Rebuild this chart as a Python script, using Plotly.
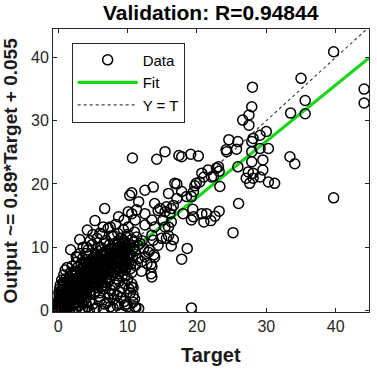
import plotly.graph_objects as go

# ---- data ----
outer_target = [
    39.7, 35.0, 44.1, 44.1, 35.6, 35.6, 33.5, 28.0, 27.9, 27.5,
    26.6, 27.5, 30.0, 29.1, 28.1, 27.9, 24.6, 25.9, 25.7, 24.2,
    29.1, 30.3, 27.9, 29.5, 27.9, 25.9, 27.4, 28.1, 29.5, 27.1,
    28.1, 29.1, 27.6, 30.3, 31.2, 33.4, 34.1, 39.7, 26.0, 25.2,
    19.2, 10.7, 14.2, 15.4, 17.4, 17.8, 19.1, 20.2, 23.1, 23.2,
    21.6, 21.0, 22.4, 23.3, 20.4, 19.7, 19.5, 17.1, 17.8, 18.5,
    19.4, 19.5, 20.7, 21.4, 21.0, 22.0, 22.6, 23.2, 13.7, 12.5,
    10.6, 11.6, 13.9, 14.7, 15.6, 16.6, 16.1, 15.1, 15.9, 15.6,
    16.6, 16.3, 18.6, 17.8, 13.9, 13.7, 13.2, 13.8, 12.5, 12.8,
    13.4, 12.0, 13.4, 13.5, 11.1, 10.6, 10.8, 10.8, 11.1, 9.9,
    8.7, 8.5, 10.8, 6.7, 5.3, 4.2, 1.8, 3.1, 8.7, 9.5,
    10.6, 11.3, 16.8, 15.9, 17.1, 19.2, 19.9, 14.4, 15.4, 16.3,
    18.0, 10.1, 12.5, 11.1, 13.5, 16.3, 19.2, 10.1, 12.5, 15.4,
    13.5, 15.9, 14.9, 11.5, 14.4, 13.0, 13.9, 12.0, 13.5, 9.6,
    9.6, 10.6, 11.6, 9.6, 22.8, 20.7, 22.1, 24.3, 6.5, 6.0,
    10.3, 2.6, 4.1, 7.5,
]
outer_output = [
    40.9, 36.7, 35.0, 32.8, 33.2, 31.1, 31.2, 35.3, 32.2, 30.9,
    30.1, 29.3, 28.3, 27.7, 27.2, 26.7, 27.0, 26.7, 25.5, 25.4,
    25.6, 25.6, 25.1, 23.8, 23.5, 22.7, 21.9, 21.7, 22.2, 20.9,
    20.9, 21.1, 20.1, 20.3, 20.1, 24.3, 23.2, 17.8, 16.9, 12.3,
    0.4, 24.1, 23.9, 25.1, 24.5, 24.3, 24.7, 24.4, 22.7, 22.0,
    22.2, 21.1, 21.2, 19.6, 20.3, 19.7, 18.8, 20.0, 18.8, 18.0,
    16.0, 14.8, 15.3, 15.3, 14.0, 14.2, 14.9, 15.7, 19.5, 19.0,
    18.6, 17.2, 16.9, 16.1, 16.4, 16.6, 15.3, 14.3, 13.2, 11.4,
    11.2, 10.2, 9.8, 8.1, 13.2, 11.1, 9.5, 8.8, 8.5, 7.4,
    7.3, 6.2, 5.8, 5.3, 7.1, 4.2, 3.6, 1.3, 0.6, 1.0,
    1.1, 2.4, 2.4, 16.1, 14.2, 12.7, 9.6, 11.2, 14.8, 14.3,
    15.3, 15.9, 20.1, 18.5, 17.7, 18.0, 20.1, 15.8, 15.6, 16.1,
    15.3, 15.6, 15.3, 14.3, 14.3, 14.0, 14.3, 13.2, 13.5, 13.2,
    11.9, 11.8, 11.4, 10.3, 10.3, 9.2, 8.4, 7.7, 6.9, 7.1,
    5.5, 3.7, 0.3, 0.8, 22.5, 21.7, 21.1, 25.1, 13.2, 12.2,
    18.2, 8.5, 10.0, 13.2,
]

cluster_target = [
    0.0, 0.1, 0.2, 0.3, 0.4, 0.5, 0.6, 0.7, 0.8, 0.9,
    1.0, 1.1, 1.2, 1.3, 1.4, 1.5, 1.6, 1.7, 1.8, 1.9,
    0.2, 0.4, 0.1, 0.6, 0.3, 0.5, 0.8, 1.0, 0.7, 1.2,
    1.4, 1.6, 1.8, 2.0, 1.3, 2.2, 2.4, 2.6, 2.1, 2.3,
    2.5, 2.7, 2.9, 3.0, 3.2, 3.4, 3.6, 3.8, 2.8, 3.1,
    3.3, 3.5, 3.7, 3.9, 4.0, 4.1, 4.3, 4.4, 4.6, 4.8,
    4.2, 4.5, 4.7, 4.9, 5.0, 5.1, 5.2, 5.3, 5.4, 5.5,
    5.6, 5.7, 5.8, 5.9, 6.0, 6.1, 6.2, 6.3, 6.4, 6.5,
    6.6, 6.7, 6.8, 6.9, 7.0, 7.1, 7.2, 7.3, 7.4, 7.5,
    7.6, 7.7, 7.8, 7.9, 8.0, 8.1, 8.2, 8.3, 8.4, 8.5,
    8.6, 8.7, 8.8, 8.9, 9.0, 9.1, 9.2, 9.3, 9.4, 9.5,
    9.6, 9.7, 9.8, 9.9, 10.0, 10.2, 10.4, 10.6, 10.8, 11.0,
    2.0, 2.2, 2.4, 2.6, 2.8, 3.0, 3.2, 3.4, 3.6, 3.8,
    4.0, 4.2, 4.4, 4.6, 4.8, 5.0, 5.2, 5.4, 5.6, 5.8,
    6.0, 6.2, 6.4, 6.6, 6.8, 7.0, 7.2, 7.4, 7.6, 7.8,
    8.0, 8.2, 8.4, 8.6, 8.8, 9.0, 9.2, 9.4, 9.6, 9.8,
    1.0, 1.2, 1.4, 1.6, 1.8, 0.5, 0.7, 0.9, 1.1, 1.3,
    0.0, 0.0, 0.1, 0.2, 0.3, 0.4, 0.6, 0.8, 1.0, 1.5,
    2.0, 2.5, 3.0, 3.5, 4.0, 4.5, 5.0, 5.5, 6.0, 6.5,
    7.0, 7.5, 8.0, 8.5, 9.0, 9.5, 10.0, 11.0, 11.2, 10.4,
    5.2, 5.6, 6.0, 6.4, 6.8, 7.2, 7.6, 8.0, 8.4, 8.8,
    9.2, 9.6, 10.0, 10.2, 10.6, 6.2, 5.8, 6.6, 7.4, 8.0,
    4.4, 4.0, 3.6, 4.6, 5.0, 5.4, 3.2, 2.6, 2.2, 1.6,
    1.2, 0.8, 0.4, 0.9, 1.9, 2.8, 3.6, 4.2, 4.8, 5.6,
    0.3, 0.5, 0.7, 0.9, 1.1, 1.3, 1.5, 1.7, 1.9, 2.1,
    2.3, 2.5, 2.7, 2.9, 3.1, 3.3, 3.5, 3.7, 3.9, 4.1,
    4.3, 4.5, 4.7, 4.9, 5.1, 5.3, 5.5, 5.7, 5.9, 6.1,
    6.3, 6.5, 6.7, 6.9, 7.1, 7.3, 7.5, 7.7, 7.9, 8.1,
    8.3, 8.5, 8.7, 8.9, 9.1, 9.3, 9.5, 9.7, 9.9, 10.1,
    3.0, 3.4, 3.8, 4.2, 4.6, 5.0, 5.4, 5.8, 6.2, 6.6,
    7.0, 7.4, 7.8, 8.2, 8.6, 9.0, 9.4, 9.8, 10.2, 10.4,
    0.1, 0.2, 0.4, 0.6, 0.8, 1.0, 1.2, 1.4, 1.6, 1.8,
    2.0, 2.2, 2.4, 2.6, 2.8, 3.0, 3.2, 3.4, 3.6, 3.8,
    0.2, 0.5, 0.7, 0.9, 1.1, 1.3, 1.5, 1.7, 1.9, 2.1,
    2.3, 2.5, 2.7, 2.9, 3.1, 3.3, 3.5, 3.7, 3.9, 4.1,
    4.3, 4.5, 4.7, 4.9, 5.1, 5.3, 5.5, 5.7, 5.9, 6.1,
    6.3, 6.5, 6.7, 6.9, 7.1, 7.3, 7.5, 7.7, 7.9, 8.1,
    8.3, 8.5, 8.7, 8.9, 9.1, 9.3, 9.5, 9.7, 9.9, 10.1,
    10.3, 10.5, 10.7, 10.9, 11.1, 11.3, 11.5, 11.8, 12.1, 12.3,
]
cluster_output = [
    0.0, 0.3, 0.1, 0.6, 0.2, 0.9, 0.4, 1.2, 0.1, 0.7,
    1.5, 0.3, 2.0, 1.0, 0.5, 2.4, 1.4, 0.2, 3.0, 1.8,
    1.4, 2.2, 2.8, 3.3, 4.0, 4.8, 5.6, 6.4, 3.8, 4.4,
    3.6, 5.2, 6.0, 7.0, 6.8, 5.0, 6.2, 7.6, 2.6, 1.2,
    3.4, 0.4, 2.0, 4.2, 5.6, 3.0, 6.8, 1.6, 8.4, 9.0,
    7.4, 8.2, 4.6, 5.4, 2.4, 7.0, 9.6, 3.6, 6.0, 8.0,
    0.6, 1.4, 4.8, 10.4, 5.2, 7.6, 0.2, 3.0, 9.0, 6.4,
    11.4, 4.2, 8.4, 2.2, 6.8, 10.0, 5.0, 12.0, 7.8, 3.4,
    9.2, 1.0, 6.2, 11.0, 8.0, 4.4, 13.0, 7.0, 2.6, 9.8,
    5.6, 11.8, 8.8, 0.4, 7.4, 10.6, 4.0, 13.6, 9.4, 6.6,
    12.2, 8.2, 3.0, 10.2, 7.8, 11.4, 5.4, 9.0, 12.8, 8.6,
    10.8, 6.4, 11.6, 9.4, 12.0, 10.4, 8.8, 11.2, 9.8, 12.4,
    2.2, 3.0, 2.4, 3.8, 3.2, 2.8, 3.8, 4.6, 3.4, 4.0,
    4.6, 5.2, 4.2, 5.4, 4.4, 6.0, 5.2, 6.6, 5.4, 6.2,
    7.2, 6.4, 6.0, 7.4, 8.0, 6.6, 7.8, 8.4, 7.2, 8.0,
    8.8, 7.8, 8.6, 9.6, 8.4, 9.2, 10.0, 8.8, 9.6, 10.4,
    0.8, 1.2, 1.8, 1.0, 2.2, 0.5, 0.2, 1.1, 1.7, 0.4,
    0.6, 1.2, 1.8, 0.5, 0.0, 1.0, 0.0, 1.6, 0.0, 0.0,
    0.0, 0.2, 0.8, 0.3, 1.2, 0.0, 1.0, 0.4, 1.6, 0.2,
    1.2, 0.6, 1.8, 0.8, 2.0, 1.4, 0.6, 1.8, 0.4, 2.8,
    2.6, 3.6, 2.8, 4.4, 3.8, 2.0, 3.2, 2.6, 5.0, 4.6,
    3.6, 4.2, 5.0, 3.4, 6.0, 8.8, 10.0, 10.6, 10.4, 11.8,
    8.6, 9.0, 10.0, 11.0, 12.0, 8.0, 6.4, 5.6, 4.2, 4.0,
    3.2, 2.6, 3.0, 4.4, 4.8, 6.8, 6.0, 6.4, 7.0, 7.2,
    1.6, 2.0, 2.6, 3.0, 2.4, 2.8, 3.2, 3.8, 4.2, 3.6,
    4.6, 5.0, 4.4, 5.2, 4.8, 5.8, 5.2, 7.2, 6.4, 5.8,
    7.6, 6.8, 7.4, 6.2, 8.4, 7.0, 8.8, 6.0, 7.6, 8.2,
    9.6, 8.6, 7.0, 9.4, 9.0, 8.6, 7.6, 9.6, 9.0, 9.8,
    7.0, 10.4, 11.0, 9.0, 8.0, 10.6, 11.0, 7.6, 8.4, 9.0,
    1.6, 2.2, 2.8, 3.2, 2.6, 3.8, 4.6, 5.0, 3.8, 5.6,
    5.2, 4.8, 6.0, 6.2, 5.8, 6.6, 7.2, 6.8, 7.6, 6.6,
    0.9, 2.4, 1.4, 1.8, 0.5, 1.2, 0.8, 1.2, 2.0, 1.2,
    1.6, 2.0, 1.8, 2.6, 1.2, 3.4, 2.4, 1.2, 2.6, 3.4,
    3.4, 1.3, 4.4, 2.0, 5.0, 3.2, 4.6, 2.6, 5.6, 1.0,
    3.4, 4.2, 6.0, 3.8, 2.0, 4.4, 6.4, 3.0, 7.6, 4.0,
    5.0, 3.0, 6.6, 5.6, 4.4, 6.0, 5.0, 7.8, 4.6, 6.0,
    5.4, 7.0, 6.4, 5.0, 7.4, 6.2, 8.2, 6.8, 7.8, 6.6,
    8.0, 9.0, 7.4, 6.2, 9.6, 7.0, 9.4, 8.0, 7.2, 8.2,
    10.0, 7.4, 8.6, 10.8, 9.4, 11.6, 8.2, 10.6, 11.0, 9.8,
]

fit_slope = 0.89
fit_intercept = 0.055
x_limits = [-0.75, 44.8]
y_limits = [-0.25, 44.5]
tick_values = [0, 10, 20, 30, 40]
title_text = "Validation: R=0.94844"
x_label = "Target"
y_label = "Output ~= 0.89*Target + 0.055"

target = outer_target + cluster_target
output = outer_output + cluster_output

fig = go.Figure()
fig.add_trace(go.Scatter(
    x=x_limits, y=[fit_slope * v + fit_intercept for v in x_limits],
    mode="lines", name="Fit", legendrank=2,
    line=dict(color="rgb(24,214,24)", width=3.2)))
fig.add_trace(go.Scatter(
    x=x_limits, y=x_limits, mode="lines", name="Y = T", legendrank=3,
    line=dict(color="#404040", width=1.2, dash="dot")))
fig.add_trace(go.Scatter(
    x=target, y=output, mode="markers", name="Data", legendrank=1,
    marker=dict(symbol="circle-open", size=10, color="black",
                line=dict(width=1.5, color="black"))))

axis_common = dict(
    tickvals=tick_values, ticks="inside", ticklen=4, tickcolor="#262626",
    mirror="ticks", showline=True, linecolor="#262626", linewidth=1,
    showgrid=False, zeroline=False, automargin=False,
    tickfont=dict(size=16, color="#262626"),
)

fig.update_layout(
    width=377, height=370,
    margin=dict(l=53, r=8, t=29, b=58, autoexpand=False),
    paper_bgcolor="white", plot_bgcolor="white",
    font=dict(family="Liberation Sans, Arial, sans-serif", color="#262626"),
    showlegend=True,
    legend=dict(x=0.059, y=0.952, xanchor="left", yanchor="top",
                bordercolor="#262626", borderwidth=1, bgcolor="white",
                font=dict(size=15, color="black"), itemwidth=60,
                tracegroupgap=0),
    xaxis=dict(range=x_limits, **axis_common),
    yaxis=dict(range=y_limits, **axis_common),
    annotations=[
        dict(text="<b>" + title_text + "</b>", xref="paper", yref="paper",
             x=0.5, y=1.06, xanchor="center", yanchor="middle",
             showarrow=False, font=dict(size=21, color="black")),
        dict(text="<b>" + x_label + "</b>", xref="paper", yref="paper",
             x=0.5, y=-0.152, xanchor="center", yanchor="middle",
             showarrow=False, font=dict(size=20, color="#1a1a1a")),
        dict(text="<b>" + y_label + "</b>", xref="paper", yref="paper",
             x=-0.133, y=0.5, xanchor="center", yanchor="middle",
             textangle=-90, showarrow=False,
             font=dict(size=19, color="#1a1a1a")),
    ],
)

fig.write_html("out.html",
               config={"displayModeBar": False},
               post_script="document.body.style.margin='0';")
